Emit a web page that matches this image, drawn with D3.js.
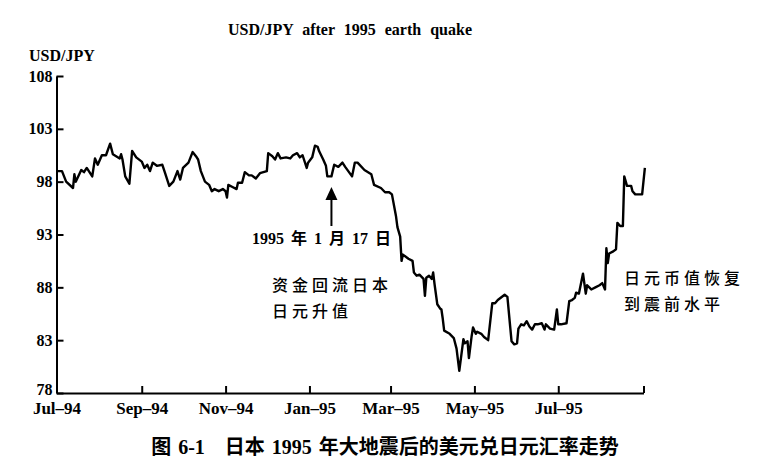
<!DOCTYPE html>
<html>
<head>
<meta charset="utf-8">
<script src="https://cdn.jsdelivr.net/npm/d3@7"></script>
<style>
  html, body { margin: 0; padding: 0; background: #fff; }
  svg { display: block; }
</style>
</head>
<body>
<script>
// Canvas size
const WIDTH = 770;
const HEIGHT = 472;

// Dates of the plotted points (USD/JPY, Jul 1994 - Aug 1995)
const dates = [
  "1994-07-01","1994-07-05","1994-07-08","1994-07-13","1994-07-14","1994-07-15","1994-07-19","1994-07-21",
  "1994-07-23","1994-07-27","1994-07-29","1994-07-31","1994-08-03","1994-08-06","1994-08-09","1994-08-11",
  "1994-08-16","1994-08-17","1994-08-18","1994-08-20","1994-08-23","1994-08-25","1994-08-28","1994-09-01",
  "1994-09-03","1994-09-05","1994-09-07","1994-09-09","1994-09-12","1994-09-16","1994-09-18","1994-09-21",
  "1994-09-24","1994-09-27","1994-09-29","1994-10-01","1994-10-05","1994-10-08","1994-10-11","1994-10-12",
  "1994-10-14","1994-10-17","1994-10-20","1994-10-22","1994-10-24","1994-10-27","1994-10-30","1994-11-01",
  "1994-11-02","1994-11-03","1994-11-06","1994-11-09","1994-11-10","1994-11-13","1994-11-15","1994-11-18",
  "1994-11-20","1994-11-23","1994-11-26","1994-12-01","1994-12-02","1994-12-05","1994-12-07","1994-12-09",
  "1994-12-11","1994-12-15","1994-12-18","1994-12-20","1994-12-23","1994-12-25","1994-12-27","1994-12-30",
  "1994-12-31","1995-01-03","1995-01-05","1995-01-07","1995-01-08","1995-01-11","1995-01-13","1995-01-14",
  "1995-01-17","1995-01-19","1995-01-22","1995-01-25","1995-01-27","1995-02-01","1995-02-03","1995-02-05",
  "1995-02-10","1995-02-15","1995-02-17","1995-02-22","1995-02-25","1995-02-28","1995-03-02","1995-03-05",
  "1995-03-06","1995-03-08","1995-03-09","1995-03-10","1995-03-14","1995-03-17","1995-03-18","1995-03-20",
  "1995-03-22","1995-03-25","1995-03-26","1995-03-27","1995-03-29","1995-03-31","1995-04-01","1995-04-02",
  "1995-04-04","1995-04-06","1995-04-07","1995-04-08","1995-04-09","1995-04-13","1995-04-16","1995-04-18",
  "1995-04-20","1995-04-23","1995-04-24","1995-04-26","1995-04-27","1995-04-29","1995-04-30","1995-05-02",
  "1995-05-03","1995-05-06","1995-05-08","1995-05-11","1995-05-14","1995-05-16","1995-05-18","1995-05-23",
  "1995-05-25","1995-05-28","1995-05-30","1995-06-01","1995-06-02","1995-06-04","1995-06-06","1995-06-08",
  "1995-06-10","1995-06-12","1995-06-14","1995-06-16","1995-06-19","1995-06-21","1995-06-22","1995-06-25",
  "1995-06-28","1995-06-30","1995-07-01","1995-07-03","1995-07-07","1995-07-09","1995-07-11","1995-07-13",
  "1995-07-14","1995-07-16","1995-07-19","1995-07-21","1995-07-22","1995-07-25","1995-07-28","1995-07-31",
  "1995-08-02","1995-08-04","1995-08-05","1995-08-06","1995-08-07","1995-08-10","1995-08-12","1995-08-13",
  "1995-08-15","1995-08-17","1995-08-18","1995-08-20","1995-08-23","1995-08-24","1995-08-26","1995-08-31",
  "1995-09-02"
];

// Exchange rate (yen per dollar) for each date above
const rates = [
  99.0, 99.0, 98.0, 97.4, 98.7, 98.0, 99.1, 98.9,
  99.3, 98.5, 100.2, 99.6, 100.5, 100.5, 101.6, 100.6,
  100.2, 100.6, 100.1, 98.5, 97.8, 100.9, 100.3, 99.9,
  99.3, 99.6, 99.0, 99.8, 99.5, 99.6, 98.8, 97.6,
  98.0, 99.0, 98.2, 99.3, 99.8, 100.8, 100.3, 100.1,
  99.0, 98.0, 97.7, 97.1, 97.3, 97.1, 97.3, 97.1,
  96.5, 97.7, 97.5, 97.3, 97.9, 97.9, 98.9, 98.6,
  98.6, 98.3, 98.8, 99.0, 100.7, 100.4, 100.1, 100.7,
  100.2, 100.3, 100.2, 100.5, 100.7, 100.3, 100.5, 99.3,
  99.8, 100.3, 101.4, 101.3, 100.9, 100.1, 99.5, 98.5,
  98.5, 99.6, 99.4, 99.8, 99.4, 98.5, 99.8, 99.8,
  99.1, 98.7, 97.7, 97.4, 97.0, 97.0, 96.8, 94.7,
  93.7, 92.8, 90.5, 91.1, 90.7, 90.5, 89.4, 89.1,
  89.2, 88.8, 87.2, 88.9, 89.1, 88.8, 89.4, 88.3,
  86.4, 86.0, 85.9, 85.0, 83.9, 83.6, 83.2, 82.2,
  80.1, 83.1, 82.7, 82.9, 81.3, 83.4, 84.2, 83.6,
  83.8, 83.6, 83.3, 83.0, 86.5, 86.5, 86.8, 87.3,
  87.1, 82.9, 82.6, 82.7, 84.1, 84.5, 84.4, 84.8,
  84.3, 84.0, 84.5, 84.5, 84.6, 84.0, 84.5, 84.1,
  84.0, 85.9, 84.5, 84.5, 84.6, 86.7, 86.8, 87.0,
  87.5, 87.4, 89.3, 87.4, 88.2, 87.8, 88.0, 88.2,
  88.4, 87.8, 91.7, 90.3, 91.2, 91.4, 91.6, 94.1,
  93.8, 93.8, 98.5, 97.6, 97.6, 97.1, 96.8, 96.8,
  99.3
];

// Axis ticks
const xTickDates = ["1994-07-01","1994-09-01","1994-11-01","1995-01-01","1995-03-01","1995-05-01","1995-07-01","1995-09-01"];
const xTickLabels = ["Jul\u201394","Sep\u201394","Nov\u201394","Jan\u201395","Mar\u201395","May\u201395","Jul\u201395",""];
const yTicks = [78, 83, 88, 93, 98, 103, 108];

// Text
const chartTitle = "USD/JPY after 1995 earth quake";
const yTitle = "USD/JPY";
const quakeDate = "1995-01-17";
const quakeLabel = "1995 年 1 月 17 日";
const fallNote = ["资金回流日本", "日元升值"];
const recoverNote = ["日元币值恢复", "到震前水平"];
const caption = "图 6-1\u2003日本 1995 年大地震后的美元兑日元汇率走势";

const SERIF = "'Liberation Serif','Times New Roman',serif";
const CJK = "'Noto Sans CJK SC','Noto Sans',sans-serif";
const MIXED = "'Liberation Serif','Noto Sans CJK SC',serif";
const parse = d3.timeParse("%Y-%m-%d");

function initCanvas() {
    return d3.select('body')
        .append('svg')
        .attr('width', WIDTH)
        .attr('height', HEIGHT)
        .style('background', '#fff');
}

function drawChart(svg) {
    const x = d3.scaleTime()
        .domain([parse("1994-07-01"), parse("1995-09-01")])
        .range([56.5, 643.5]);
    const y = d3.scaleLinear()
        .domain([78, 108])
        .range([393, 76]);

    // y axis, ticks pointing inward
    const yAxis = svg.append('g')
        .attr('transform', `translate(${x.range()[0]},0)`)
        .call(d3.axisLeft(y).tickValues(yTicks).tickFormat(d3.format('d'))
            .tickSize(-7).tickSizeOuter(0).tickPadding(4));
    yAxis.select('.domain').attr('stroke-width', 2);
    yAxis.selectAll('.tick line').attr('stroke-width', 2);
    yAxis.selectAll('text')
        .attr('font-family', SERIF).attr('font-weight', 'bold')
        .attr('font-size', 16).attr('fill', '#000');
    yAxis.selectAll('.tick').filter(d => d === 78).select('text').attr('dy', '0.1em');

    // x axis, ticks pointing inward
    const xAxis = svg.append('g')
        .attr('transform', `translate(0,${y(78)})`)
        .call(d3.axisBottom(x).tickValues(xTickDates.map(parse))
            .tickFormat((d, i) => xTickLabels[i])
            .tickSize(-7).tickSizeOuter(0).tickPadding(9));
    xAxis.select('.domain').attr('stroke-width', 2);
    xAxis.selectAll('.tick line').attr('stroke-width', 2);
    xAxis.selectAll('text')
        .attr('font-family', SERIF).attr('font-weight', 'bold')
        .attr('font-size', 17).attr('fill', '#000');

    // price line
    const points = dates.map((d, i) => [parse(d), rates[i]]);
    const line = d3.line()
        .x(d => x(d[0]))
        .y(d => y(d[1]));
    svg.append('path')
        .datum(points)
        .attr('d', line)
        .attr('fill', 'none')
        .attr('stroke', '#000')
        .attr('stroke-width', 2.4)
        .attr('stroke-linejoin', 'round');

    // titles
    svg.append('text')
        .attr('x', 350).attr('y', 35)
        .attr('text-anchor', 'middle')
        .attr('font-family', SERIF).attr('font-weight', 'bold')
        .attr('font-size', 16).attr('word-spacing', 5)
        .text(chartTitle);
    svg.append('text')
        .attr('x', 29).attr('y', 61)
        .attr('font-family', SERIF).attr('font-weight', 'bold')
        .attr('font-size', 16)
        .text(yTitle);

    // earthquake arrow
    const qx = x(parse(quakeDate));
    svg.append('line')
        .attr('x1', qx).attr('x2', qx)
        .attr('y1', 226).attr('y2', 196)
        .attr('stroke', '#000').attr('stroke-width', 2);
    svg.append('path')
        .attr('d', `M${qx},187 L${qx - 6},200 L${qx + 6},200 Z`)
        .attr('fill', '#000');
    svg.append('text')
        .attr('x', 252).attr('y', 244)
        .attr('font-family', MIXED)
        .attr('font-weight', 'bold').attr('font-size', 16)
        .attr('word-spacing', 3)
        .text(quakeLabel);

    // notes
    const note = (lines, x0, y0) => {
        lines.forEach((t, i) => {
            svg.append('text')
                .attr('x', x0).attr('y', y0 + i * 26)
                .attr('font-family', CJK).attr('font-weight', 500)
                .attr('font-size', 16).attr('letter-spacing', 4)
                .text(t);
        });
    };
    note(fallNote, 272, 291);
    note(recoverNote, 624, 284);

    // caption
    svg.append('text')
        .attr('x', 385).attr('y', 454)
        .attr('text-anchor', 'middle')
        .attr('font-family', MIXED)
        .attr('font-weight', 'bold').attr('font-size', 20)
        .attr('word-spacing', 2)
        .text(caption);
}

function main() {
    const svg = initCanvas();
    drawChart(svg);
}

main();
</script>
</body>
</html>
